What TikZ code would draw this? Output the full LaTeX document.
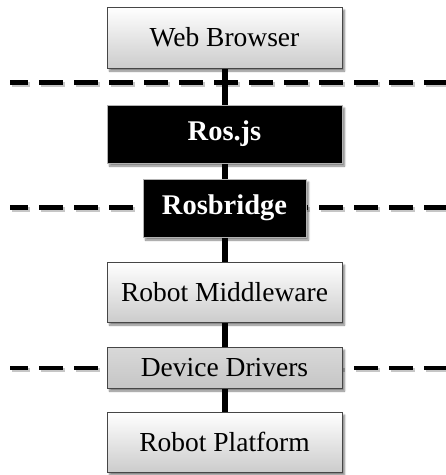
\documentclass[tikz,border=0pt]{standalone}
\usepackage{fontspec}
\setmainfont{Liberation Serif}
\usetikzlibrary{shadows.blur,backgrounds}

\tikzset{
  layerbox/.style={rectangle, draw=gray!55!black, line width=0.8pt,
    minimum width=235pt, inner sep=0pt, font=\fontsize{27.5}{30}\selectfont,
    blur shadow={shadow xshift=2.5pt, shadow yshift=-3pt, shadow blur steps=6, shadow opacity=50}},
  lightbox/.style={layerbox, top color=white, bottom color=gray!40},
  midbox/.style={layerbox, top color=gray!30, bottom color=gray!45},
  darkbox/.style={layerbox, fill=black, draw=gray!60, text=white,
    font=\fontsize{28.5}{30}\selectfont\bfseries},
  divider/.style={line width=4.5pt, dash pattern=on 24pt off 11pt, dash phase=6pt},
  dividershade/.style={divider, draw=gray!45},
  link/.style={line width=6pt, draw=black}
}

\begin{document}
\begin{tikzpicture}[x=1pt, y=-1pt]
  \useasboundingbox (0,0) rectangle (446,475);

  % layer boxes
  \node[lightbox, minimum height=61pt] (web) at (224.5,37.5) {Web Browser};
  \node[darkbox,  minimum height=58pt] (rosjs) at (224.5,134) {Ros.js};
  \node[darkbox,  minimum height=58pt, minimum width=163pt] (bridge) at (224.5,208) {Rosbridge};
  \node[lightbox, minimum height=60pt] (mw) at (224.5,292) {Robot Middleware};
  \node[midbox,   minimum height=41pt] (drv) at (224.5,367.5) {Device Drivers};
  \node[lightbox, minimum height=60pt] (plat) at (224.5,442) {Robot Platform};

  % boundary markers
  \coordinate (d1l) at (10,82.5);  \coordinate (d1r) at (446,82.5);
  \coordinate (d2l) at (10,207.5); \coordinate (d2r) at (446,207.5);
  \coordinate (d3l) at (10,368);   \coordinate (d3r) at (446,368);

  \begin{scope}[on background layer]
    \foreach \a/\b in {d1l/d1r, d2l/d2r, d3l/d3r} {
      \draw[dividershade] ([shift={(1.5,2)}]\a) -- ([shift={(1.5,2)}]\b);
      \draw[divider] (\a) -- (\b);
    }
    \draw[link] (web.south) -- (plat.north);
  \end{scope}
\end{tikzpicture}
\end{document}
